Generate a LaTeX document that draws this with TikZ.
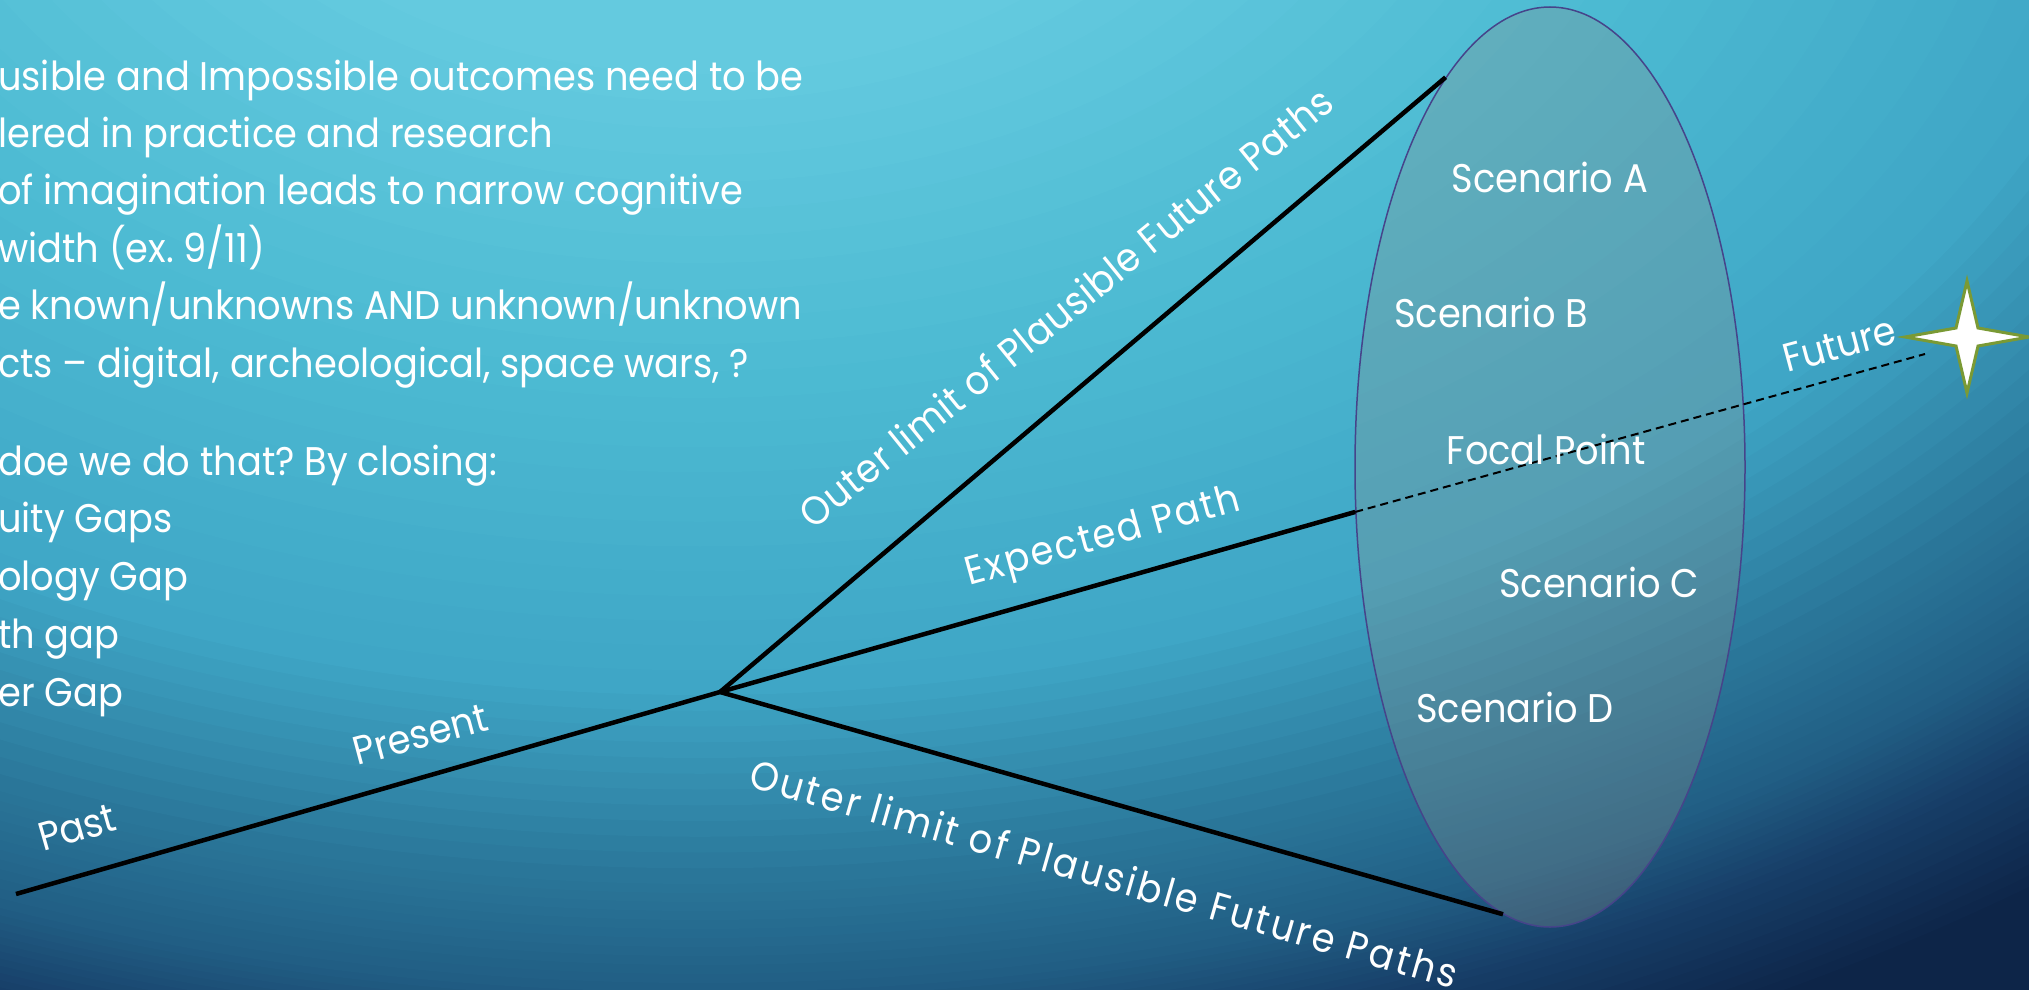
\documentclass[tikz,border=0pt]{standalone}
\usepackage{fontspec}
\setmainfont[FakeStretch = 0.92]{Poppins}
\usetikzlibrary{shapes.geometric}

\definecolor{bgtop}{HTML}{64CADF}
\definecolor{bgupper}{HTML}{4CBAD2}
\definecolor{bgmid}{HTML}{3FA6C6}
\definecolor{bgdeep}{HTML}{2A7699}
\definecolor{bglow}{HTML}{215E84}
\definecolor{bgnavy}{HTML}{173E68}
\definecolor{bgdark}{HTML}{0D2548}
\definecolor{cloudgray}{HTML}{85908F}
\definecolor{cloudrim}{HTML}{46448A}
\definecolor{stargreen}{HTML}{7A9A35}

\newcommand\slidefont{\fontsize{40}{48}\selectfont}

\tikzset{
  slidetext/.style = {text = white, font = \slidefont, anchor = base west, inner sep = 0},
  pathlabel/.style = {text = white, font = \slidefont, anchor = base, inner sep = 0},
  widelabel/.style = {pathlabel, font = \slidefont\addfontfeature{LetterSpace = #1}},
  timeline/.style = {line width = 4.5pt, black},
}

\frenchspacing
\begin{document}
\begin{tikzpicture}[x = 1pt, y = -1pt]
  \useasboundingbox (0, 0) rectangle (2029, 990);
  \begin{scope}
    \clip (0, 0) rectangle (2029, 990);
    \fill[bgdark] (0, 0) rectangle (2029, 990);
    \foreach \ra/\rb/\ca/\cb in {0.98/1.06/bgnavy/bgdark, 0.92/0.98/bglow/bgnavy,
        0.84/0.92/bgdeep/bglow, 0.70/0.84/bgmid/bgdeep, 0.48/0.70/bgupper/bgmid,
        0.24/0.48/bgtop/bgupper}
      \foreach \k in {0, ..., 11} {
        \pgfmathsetmacro\rr{\rb - (\rb - \ra)*\k/12}
        \pgfmathsetmacro\rx{\rr*2100}
        \pgfmathsetmacro\ry{\rr*1350}
        \pgfmathsetmacro\pp{100*\k/12}
        \fill[\ca!\pp!\cb] (700, -250) ellipse [x radius = \rx pt, y radius = \ry pt];
      }
    \fill[bgtop] (700, -250) ellipse [x radius = 504pt, y radius = 324pt];

    \foreach \txt [count = \i from 0] in {
        {usible and Impossible outcomes need to be},
        {lered in practice and research},
        {of imagination leads to narrow cognitive},
        {width (ex. 9/11)},
        {e known/unknowns AND unknown/unknown},
        {cts -- digital, archeological, space wars, ?}}
      \node[slidetext] (lead\i) at (-2, {90 + 57.4*\i}) {\txt};
    \foreach \txt [count = \i from 0] in {
        {doe we do that? By closing:},
        {uity Gaps},
        {ology Gap},
        {th gap},
        {er Gap}}
      \node[slidetext] (gap\i) at (-2, {475 + 57.75*\i}) {\txt};

    \node[ellipse, draw = cloudrim, line width = 1.5pt, fill = cloudgray, fill opacity = 0.32,
      minimum width = 390pt, minimum height = 920pt, inner sep = 0] (cloud) at (1550, 467) {};

    \coordinate (past) at (16, 894);
    \coordinate (present) at (720, 692);
    \coordinate (horizon) at (1925, 354);
    \coordinate (futurestar) at (1967, 337);
    \draw[timeline] (past) -- (present);
    \draw[timeline] (present) -- (cloud.105);
    \draw[timeline] (present) -- (cloud.193);
    \draw[timeline] (present) -- (cloud.264);
    \draw[line width = 2pt, dash pattern = on 8pt off 5pt] (cloud.193) -- (horizon);

    \node[pathlabel, rotate = 16] (pastlabel) at (81, 841) {Past};
    \node[pathlabel, rotate = 15] (presentlabel) at (424, 748) {Present};
    \node[widelabel = 2, rotate = 39] (upperlabel) at (1075, 319) {Outer limit of Plausible Future Paths};
    \node[widelabel = 5, rotate = 15.5] (expectedlabel) at (1106, 548) {Expected Path};
    \node[widelabel = 7, rotate = -16] (lowerlabel) at (1100, 888) {Outer limit of Plausible Future Paths};
    \node[pathlabel, rotate = 15] (futurelabel) at (1843, 358) {Future};

    \node[pathlabel] (scenarioa) at (1550, 192) {Scenario A};
    \node[pathlabel] (scenariob) at (1491, 327) {Scenario B};
    \node[pathlabel] (focal) at (1546, 464) {Focal Point};
    \node[pathlabel] (scenarioc) at (1599, 597) {Scenario C};
    \node[pathlabel] (scenariod) at (1515, 722) {Scenario D};

    \draw[stargreen, line width = 3pt, fill = white] (futurestar) ++(-62, 0) -- ++(51, -9)
      -- ++(11, -47) -- ++(11, 47) -- ++(51, 9) -- ++(-51, 9) -- ++(-11, 47) -- ++(-11, -47) -- cycle;
  \end{scope}
\end{tikzpicture}
\end{document}
